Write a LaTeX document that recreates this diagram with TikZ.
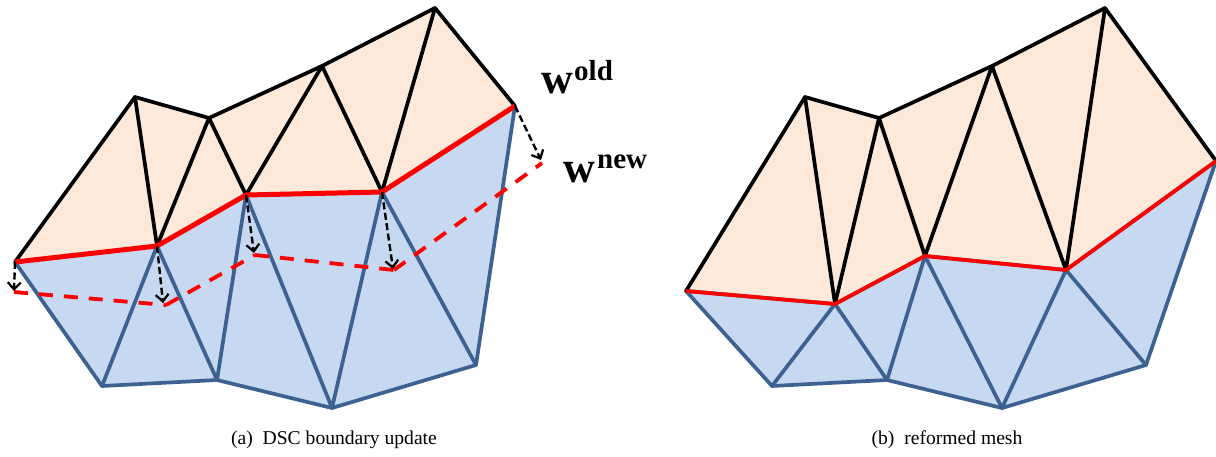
\documentclass[tikz,border=0pt]{standalone}
\usepackage{fontspec}
\setmainfont{Liberation Serif}
\usetikzlibrary{arrows.meta}
\definecolor{peach}{HTML}{FDE9D9}
\definecolor{paleblue}{HTML}{C6D9F1}
\definecolor{edgeblue}{HTML}{3D6291}
\tikzset{
  peachfill/.style={fill=peach,draw=none},
  bluefill/.style={fill=paleblue,draw=none},
  blackedge/.style={draw=black,line width=3.7pt,line join=round,line cap=round},
  blueedge/.style={draw=edgeblue,line width=3.7pt,line join=round,line cap=round},
  redline/.style={draw=red,line width=5pt,line join=round},
  redthin/.style={draw=red,line width=3.8pt,line join=round},
  reddash/.style={draw=red,line width=3.8pt,dash pattern=on 14pt off 11pt},
  movearrow/.style={draw=black,line width=2.4pt,dash pattern=on 7pt off 3.5pt,-{Straight Barb[length=7pt,width=13pt,line width=2.2pt]}},
  caption/.style={font=\fontsize{19.6}{22}\selectfont,anchor=center,inner sep=0pt},
  wlabel/.style={font=\fontsize{44}{48}\selectfont\bfseries,anchor=base west,inner sep=0pt},
  suplabel/.style={font=\fontsize{29}{32}\selectfont\bfseries,anchor=base west,inner sep=0pt},
}
\begin{document}
\begin{tikzpicture}[x=1pt,y=-1pt]
\useasboundingbox (0,0) rectangle (1216,456);
% left panel
\coordinate (a0) at (15,262);
\coordinate (a1) at (157,246);
\coordinate (a2) at (246,195);
\coordinate (a3) at (382,192);
\coordinate (a4) at (515,106);
\coordinate (t1) at (135,97);
\coordinate (t2) at (209,118);
\coordinate (t3) at (322,66);
\coordinate (t4) at (435,8);
\coordinate (b1) at (102,386);
\coordinate (b2) at (217,380);
\coordinate (b3) at (332,408);
\coordinate (b4) at (476,365);
\coordinate (d0) at (14,292);
\coordinate (d1) at (166,305);
\coordinate (d2) at (255,255);
\coordinate (d3) at (394,270);
\coordinate (d4) at (542,163);
\coordinate (e0) at (14,291);
\coordinate (e1) at (163,303);
\coordinate (e2) at (254,253);
\coordinate (e3) at (393,269);
\coordinate (e4) at (541,160);
\path[bluefill] (a0)--(b1)--(b2)--(b3)--(b4)--(a4)--(a3)--(a2)--(a1)--cycle;
\path[peachfill] (a0)--(t1)--(t2)--(t3)--(t4)--(a4)--(a3)--(a2)--(a1)--cycle;
\draw[blueedge] (a0)--(b1)--(b2)--(b3)--(b4)--(a4);
\draw[blueedge] (b1)--(a1)--(b2)--(a2)--(b3)--(a3)--(b4);
\draw[blackedge] (a0)--(t1)--(t2)--(t3)--(t4)--(a4);
\draw[blackedge] (t1)--(a1)--(t2)--(a2)--(t3)--(a3)--(t4);
\draw[redline] (a0)--(a1)--(a2)--(a3)--(a4);
\draw[reddash] (d0)--(d1);
\draw[reddash] (d1)--(d2);
\draw[reddash] (d2)--(d3);
\draw[reddash] (d3)--(d4);
\draw[movearrow] (a0)--(e0);
\draw[movearrow] (a1)--(e1);
\draw[movearrow] (a2)--(e2);
\draw[movearrow] (a3)--(e3);
\draw[movearrow] (a4)--(e4);
\node[wlabel] (wold) at (541,93) {w};
\node[suplabel] (oldsup) at (574,80) {old};
\node[wlabel] (wnew) at (563,182) {w};
\node[suplabel] (newsup) at (597,168) {new};
\node[caption] (capa) at (334,440) {(a)\hspace{0.5em}DSC boundary update};
% right panel
\coordinate (ra0) at (686,291);
\coordinate (ra1) at (835,304);
\coordinate (ra2) at (925,256);
\coordinate (ra3) at (1066,270);
\coordinate (ra4) at (1216,161);
\coordinate (rt1) at (805,97);
\coordinate (rt2) at (879,118);
\coordinate (rt3) at (992,66);
\coordinate (rt4) at (1105,8);
\coordinate (rb1) at (772,386);
\coordinate (rb2) at (887,380);
\coordinate (rb3) at (1002,408);
\coordinate (rb4) at (1146,365);
\path[bluefill] (ra0)--(rb1)--(rb2)--(rb3)--(rb4)--(ra4)--(ra3)--(ra2)--(ra1)--cycle;
\path[peachfill] (ra0)--(rt1)--(rt2)--(rt3)--(rt4)--(ra4)--(ra3)--(ra2)--(ra1)--cycle;
\draw[blueedge] (ra0)--(rb1)--(rb2)--(rb3)--(rb4)--(ra4);
\draw[blueedge] (rb1)--(ra1)--(rb2)--(ra2)--(rb3)--(ra3)--(rb4);
\draw[blueedge,yshift=1.5pt] (ra0)--(ra1)--(ra2)--(ra3)--(ra4);
\draw[blackedge] (ra0)--(rt1)--(rt2)--(rt3)--(rt4)--(ra4);
\draw[blackedge] (rt1)--(ra1)--(rt2)--(ra2)--(rt3)--(ra3)--(rt4);
\draw[redthin] (ra0)--(ra1)--(ra2)--(ra3)--(ra4);
\node[caption] (capb) at (947,440) {(b)\hspace{0.5em}reformed mesh};
\end{tikzpicture}
\end{document}
